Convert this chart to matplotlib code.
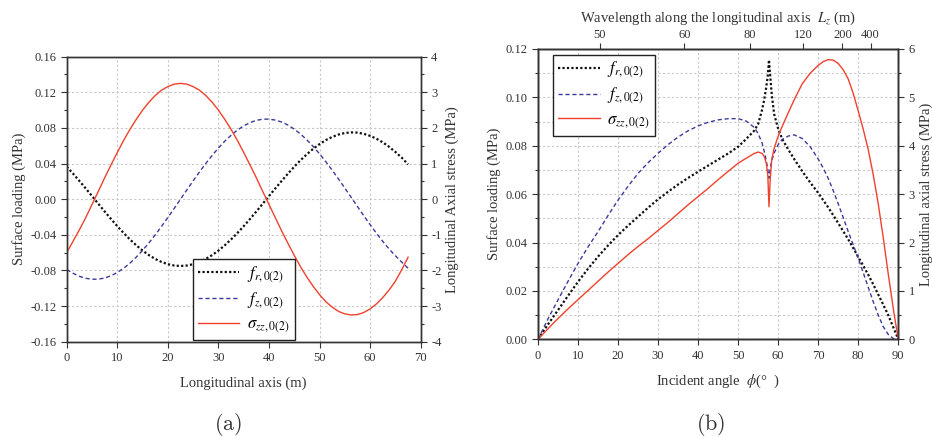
import numpy as np
import matplotlib
matplotlib.use('Agg')
import matplotlib.pyplot as plt
from matplotlib.ticker import MultipleLocator, FormatStrFormatter

plt.rcParams['font.family'] = ['Liberation Serif', 'DejaVu Serif']
plt.rcParams['mathtext.fontset'] = 'stix'
plt.rcParams['axes.unicode_minus'] = False

# ---- panel (a): loads along the tunnel axis ----
x_a = [0, 1.25, 2.5, 3.75, 5, 6.25, 7.5, 8.75, 10, 11.25, 12.5, 13.75, 15, 16.25,
       17.5, 18.75, 20, 21.25, 22.5, 23.75, 25, 26.25, 27.5, 28.75, 30, 31.25,
       32.5, 33.75, 35, 36.25, 37.5, 38.75, 40, 41.25, 42.5, 43.75, 45, 46.25,
       47.5, 48.75, 50, 51.25, 52.5, 53.75, 55, 56.25, 57.5, 58.75, 60, 61.25,
       62.5, 63.75, 65, 66.25, 67.5]
fr_a = [0.0365, 0.0287, 0.0205, 0.0121, 0.0035, -0.0052, -0.0138, -0.0222,
        -0.0303, -0.0380, -0.0452, -0.0518, -0.0577, -0.0628, -0.0671, -0.0705,
        -0.0730, -0.0745, -0.0750, -0.0745, -0.0730, -0.0705, -0.0671, -0.0628,
        -0.0577, -0.0518, -0.0452, -0.0380, -0.0303, -0.0222, -0.0138, -0.0052,
        0.0035, 0.0121, 0.0205, 0.0287, 0.0365, 0.0438, 0.0505, 0.0566,
        0.0619, 0.0664, 0.0699, 0.0726, 0.0743, 0.0750, 0.0747, 0.0734,
        0.0711, 0.0679, 0.0638, 0.0588, 0.0530, 0.0466, 0.0390]
fz_a = [-0.0790, -0.0832, -0.0866, -0.0888, -0.0899, -0.0898, -0.0885, -0.0860,
        -0.0823, -0.0776, -0.0718, -0.0651, -0.0575, -0.0491, -0.0401, -0.0306,
        -0.0206, -0.0104, 0.0, 0.0104, 0.0206, 0.0306, 0.0401, 0.0491,
        0.0575, 0.0651, 0.0718, 0.0776, 0.0823, 0.0860, 0.0885, 0.0898,
        0.0899, 0.0888, 0.0866, 0.0832, 0.0786, 0.0731, 0.0665, 0.0591,
        0.0509, 0.0420, 0.0325, 0.0226, 0.0124, 0.0021, -0.0083, -0.0186,
        -0.0286, -0.0383, -0.0474, -0.0559, -0.0636, -0.0706, -0.0775]
szz_a = [-1.50, -1.18, -0.86, -0.52, -0.15, 0.22, 0.60, 0.96, 1.31, 1.65,
         1.96, 2.24, 2.50, 2.72, 2.91, 3.06, 3.16, 3.23, 3.25, 3.23,
         3.16, 3.06, 2.91, 2.72, 2.50, 2.24, 1.96, 1.65, 1.31, 0.96,
         0.60, 0.22, -0.15, -0.52, -0.89, -1.24, -1.58, -1.90, -2.19, -2.45,
         -2.68, -2.88, -3.03, -3.15, -3.22, -3.25, -3.24, -3.18, -3.08, -2.94,
         -2.76, -2.55, -2.30, -1.98, -1.63]

# ---- panel (b): peak values vs incident angle ----
phi_b = [0, 2.5, 5, 7.5, 10, 12.5, 15, 17.5, 20, 22.5, 25, 27.5, 30, 32.5,
         35, 37.5, 40, 42.5, 45, 47.5, 50, 52, 54, 55, 56, 56.5, 57, 57.4,
         57.7, 58.0, 58.4, 59, 60, 61, 62.5, 64, 66, 68, 70, 71.25, 72.5,
         73.75, 75, 76.25, 77.5, 78.75, 80, 81.25, 82.5, 83.75, 85, 86.25,
         87.5, 89, 90]
fr_b = [0.0, 0.0062, 0.0121, 0.0180, 0.0238, 0.0292, 0.0342, 0.0388, 0.0431,
        0.0470, 0.0507, 0.0544, 0.0579, 0.0610, 0.0640, 0.0667, 0.0693, 0.0718,
        0.0743, 0.0768, 0.0796, 0.0828, 0.0862, 0.0890, 0.0950, 0.0990, 0.1040,
        0.1090, 0.1155, 0.1090, 0.1010, 0.0930, 0.0870, 0.0828, 0.0785, 0.0745,
        0.0695, 0.0648, 0.0605, 0.0575, 0.0545, 0.0513, 0.0480, 0.0447, 0.0413,
        0.0377, 0.0340, 0.0304, 0.0267, 0.0227, 0.0185, 0.0143, 0.0100, 0.0040,
        0.0]
fz_b = [0.0, 0.0085, 0.0163, 0.0240, 0.0314, 0.0382, 0.0445, 0.0512, 0.0576,
        0.0633, 0.0686, 0.0730, 0.0769, 0.0805, 0.0836, 0.0862, 0.0882, 0.0897,
        0.0907, 0.0912, 0.0912, 0.0902, 0.0876, 0.0850, 0.0810, 0.0778, 0.0740,
        0.0705, 0.0666, 0.0705, 0.0740, 0.0770, 0.0805, 0.0826, 0.0840, 0.0845,
        0.0830, 0.0796, 0.0745, 0.0708, 0.0665, 0.0615, 0.0560, 0.0503, 0.0445,
        0.0390, 0.0335, 0.0275, 0.0215, 0.0155, 0.0100, 0.0052, 0.0020, 0.0,
        0.0003]
szz_b = [0.0, 0.22, 0.43, 0.63, 0.82, 1.01, 1.20, 1.39, 1.57, 1.75, 1.92, 2.08,
         2.25, 2.42, 2.60, 2.78, 2.95, 3.12, 3.30, 3.47, 3.64, 3.74, 3.84, 3.87,
         3.84, 3.78, 3.65, 3.40, 2.74, 3.30, 3.72, 3.95, 4.20, 4.40, 4.68, 4.95,
         5.28, 5.50, 5.66, 5.74, 5.78, 5.77, 5.70, 5.57, 5.38, 5.08, 4.72, 4.34,
         3.92, 3.40, 2.80, 2.10, 1.35, 0.50, 0.0]

# top axis of (b): wavelength L_z = c / cos(phi)
wave_ticks = [50, 60, 80, 120, 200, 400]
c_wave = 48.2

RED = '#f0412d'
BLUE = '#3b3b9c'
BLACK = '#111111'
TXT = '#333333'
GRID = '#c8c8c8'

labels = [r'$f_{r,0(2)}$', r'$f_{z,0(2)}$', r'$\sigma_{zz,0(2)}$']


def style(ax):
    ax.tick_params(which='both', direction='out', colors=TXT, labelsize=9, width=0.8)
    ax.tick_params(which='major', length=4)
    ax.tick_params(which='minor', length=2)
    for s in ax.spines.values():
        s.set_color(TXT)
        s.set_linewidth(1.0)


def add_legend(ax, handles, **kw):
    leg = ax.legend(handles, labels, borderaxespad=0, fontsize=12,
                    handlelength=2.5, handletextpad=0.45, labelspacing=0.35,
                    borderpad=0.3, fancybox=False, framealpha=1,
                    edgecolor='#222222', **kw)
    leg.get_frame().set_linewidth(1.0)


fig = plt.figure(figsize=(9.32, 4.37), dpi=100)

# ---------------- (a) ----------------
ax1 = fig.add_axes([0.0716, 0.2181, 0.3798, 0.6522])
ax1r = ax1.twinx()
l1, = ax1.plot(x_a, fr_a, color=BLACK, lw=1.6, ls=(0, (1, 1)))
l2, = ax1.plot(x_a, fz_a, color=BLUE, lw=1.0, ls=(0, (3, 2)))
l3, = ax1r.plot(x_a, szz_a, color=RED, lw=1.0)
ax1.set_xlim(0, 70)
ax1.set_ylim(-0.16, 0.16)
ax1r.set_ylim(-4, 4)
ax1.xaxis.set_major_locator(MultipleLocator(10))
ax1.yaxis.set_major_locator(MultipleLocator(0.04))
ax1.yaxis.set_minor_locator(MultipleLocator(0.02))
ax1.yaxis.set_major_formatter(FormatStrFormatter('%.2f'))
ax1r.yaxis.set_major_locator(MultipleLocator(1))
ax1r.yaxis.set_minor_locator(MultipleLocator(0.5))
ax1.grid(True, which='major', color=GRID, ls=(0, (2, 2)), lw=0.8)
ax1.set_axisbelow(True)
for a in (ax1, ax1r):
    style(a)
ax1.set_xlabel('Longitudinal axis (m)', fontsize=10.5, color=TXT, labelpad=9)
ax1.set_ylabel('Surface loading (MPa)', fontsize=10.5, color=TXT, labelpad=3)
ax1r.set_ylabel('Longitudinal Axial stress (MPa)', fontsize=10.5, color=TXT, labelpad=3)
add_legend(ax1r, [l1, l2, l3], loc='lower center', bbox_to_anchor=(0.5, 0.005))

# ---------------- (b) ----------------
ax2 = fig.add_axes([0.5773, 0.2236, 0.3865, 0.6643])
ax2r = ax2.twinx()
ax2t = ax2.twiny()
m1, = ax2.plot(phi_b, fr_b, color=BLACK, lw=1.6, ls=(0, (1, 1)))
m2, = ax2.plot(phi_b, fz_b, color=BLUE, lw=1.0, ls=(0, (3, 2)))
m3, = ax2r.plot(phi_b, szz_b, color=RED, lw=1.0)
ax2.set_xlim(0, 90)
ax2.set_ylim(0, 0.12)
ax2r.set_ylim(0, 6)
ax2.xaxis.set_major_locator(MultipleLocator(10))
ax2.yaxis.set_major_locator(MultipleLocator(0.02))
ax2.yaxis.set_minor_locator(MultipleLocator(0.01))
ax2.yaxis.set_major_formatter(FormatStrFormatter('%.2f'))
ax2r.yaxis.set_major_locator(MultipleLocator(1))
ax2r.yaxis.set_minor_locator(MultipleLocator(0.5))
ax2.grid(True, which='both', axis='y', color=GRID, ls=(0, (2, 2)), lw=0.8)
ax2.grid(True, which='major', axis='x', color=GRID, ls=(0, (2, 2)), lw=0.8)
ax2.set_axisbelow(True)

ax2t.set_xlim(0, 90)
ax2t.set_xticks(np.degrees(np.arccos(c_wave / np.array(wave_ticks, dtype=float))))
ax2t.set_xticklabels([str(v) for v in wave_ticks])
for a in (ax2, ax2r, ax2t):
    style(a)
ax2t.tick_params(pad=2)
ax2t.set_xlabel(r'Wavelength along the longitudinal axis  $L_z$ (m)', fontsize=10.5,
                color=TXT, labelpad=5)
ax2.set_xlabel(r'Incident angle  $\phi$(°  )', fontsize=10.5, color=TXT, labelpad=8)
ax2.set_ylabel('Surface loading (MPa)', fontsize=10.5, color=TXT, labelpad=3)
ax2r.set_ylabel('Longitudinal axial stress (MPa)', fontsize=10.5, color=TXT, labelpad=3)
add_legend(ax2t, [m1, m2, m3], loc='upper left', bbox_to_anchor=(0.042, 0.979))

fig.text(228 / 932, 1 - 424 / 437, r'$\mathrm{(a)}$', math_fontfamily='cm',
         fontsize=16, ha='center', va='center', color=TXT)
fig.text(711 / 932, 1 - 424 / 437, r'$\mathrm{(b)}$', math_fontfamily='cm',
         fontsize=16, ha='center', va='center', color=TXT)

fig.savefig('out.png', dpi=100)
